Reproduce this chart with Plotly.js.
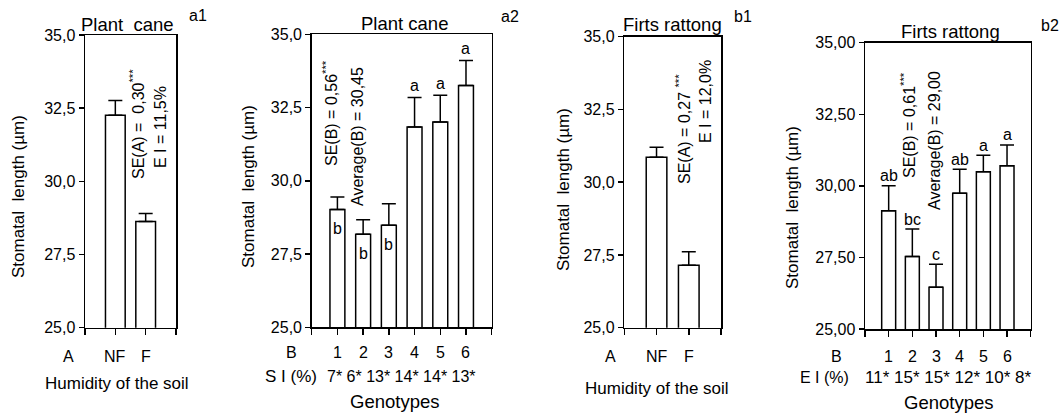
<!DOCTYPE html>
<html>
<head>
<meta charset="utf-8">
<script src="https://cdn.plot.ly/plotly-3.0.1.min.js"></script>
<style>html,body{margin:0;padding:0;background:#fff;}#chart{width:1064px;height:414px;}</style>
</head>
<body>
<div id="chart"></div>
<script>
// ---------- data ----------
const a1Cats = ['NF', 'F'];
const a1Means = [32.26, 28.63];
const a1Err = [0.50, 0.27];

const a2Cats = ['1', '2', '3', '4', '5', '6'];
const a2Means = [29.02, 28.18, 28.48, 31.84, 32.01, 33.25];
const a2Err = [0.43, 0.49, 0.74, 1.00, 0.91, 0.86];
const a2Letters = ['b', 'b', 'b', 'a', 'a', 'a'];
const a2LetterInside = [true, true, true, false, false, false];
const a2SI = ['7*', '6*', '13*', '14*', '14*', '13*'];

const b1Cats = ['NF', 'F'];
const b1Means = [30.86, 27.15];
const b1Err = [0.34, 0.46];

const b2Cats = ['1', '2', '3', '4', '5', '6'];
const b2Means = [29.13, 27.53, 26.46, 29.74, 30.49, 30.70];
const b2Err = [0.87, 0.96, 0.80, 0.84, 0.58, 0.73];
const b2Letters = ['ab', 'bc', 'c', 'ab', 'a', 'a'];
const b2EI = ['11*', '15*', '15*', '12*', '10*', '8*'];

const yTicks = [25, 27.5, 30, 32.5, 35];

// ---------- helpers ----------
const W = 1064, H = 414;
const FONT = 'Liberation Sans, Arial, sans-serif';
const px = v => v / W;
const py = v => 1 - v / H;
const idx = arr => arr.map((_, i) => i + 1);

function barTrace(means, err, width, xa, ya) {
  return {
    type: 'bar', x: idx(means), y: means, width: width,
    xaxis: xa, yaxis: ya,
    marker: {color: '#ffffff', line: {color: '#000', width: 1.5}},
    error_y: {type: 'data', symmetric: false, array: err, arrayminus: err.map(() => 0),
              color: '#000', thickness: 1.5, width: 7},
    hoverinfo: 'skip', showlegend: false
  };
}

function xAxis(n, x0, x1, anchor) {
  const tv = [];
  for (let i = 0; i <= n + 1; i++) tv.push(i);
  return {domain: [px(x0), px(x1)], range: [0, n + 1], anchor: anchor,
          tickvals: tv, showticklabels: false, ticks: 'outside', ticklen: 6,
          tickwidth: 1.5, tickcolor: '#000', showline: true, linecolor: '#000',
          linewidth: 1.5, mirror: true, showgrid: false, zeroline: false, fixedrange: true};
}
function yAxis(y0, y1, anchor, fmt) {
  return {domain: [py(y1), py(y0)], range: [25, 35], anchor: anchor,
          tickvals: yTicks, tickformat: fmt, ticks: 'outside', ticklen: 5,
          tickwidth: 1.5, tickcolor: '#000', showline: true, linecolor: '#000',
          linewidth: 1.5, mirror: true, showgrid: false, zeroline: false,
          tickfont: {family: FONT, size: 16, color: '#000'}, fixedrange: true};
}

const ann = [];
function txt(text, x, y, size, opts) {
  ann.push(Object.assign({text: text, xref: 'paper', yref: 'paper', x: px(x), y: py(y),
    xanchor: 'center', yanchor: 'middle', showarrow: false,
    font: {family: FONT, size: size, color: '#000'}}, opts || {}));
}
function rot(text, x, y, size) { txt(text, x, y, size, {textangle: -90}); }
function catRow(labels, xa, y, size) {
  labels.forEach((l, i) => ann.push({text: l, xref: xa, yref: 'paper', x: i + 1, y: py(y),
    xanchor: 'center', yanchor: 'middle', showarrow: false,
    font: {family: FONT, size: size, color: '#000'}}));
}

// ---------- panel a1 ----------
txt('Plant  cane', 127, 24, 18.5);
txt('a1', 198, 15, 16);
rot('Stomatal  length (µm)', 18, 197, 17);
rot('SE(A) =  0,30<sup>***</sup>', 137, 124, 16);
rot('E I = 11,5%', 160, 127, 16);
txt('A', 68, 356, 16);
catRow(a1Cats, 'x', 356, 16);
txt('Humidity of the soil', 117, 383, 17);

// ---------- panel a2 ----------
txt('Plant cane', 404, 23, 18.5);
txt('a2', 510, 17, 16);
rot('Stomatal  length (µm)', 248, 187, 17);
rot('SE(B) = 0,56<sup>***</sup>', 330, 113, 16);
rot('Average(B) = 30,45', 357, 137, 16);
txt('B', 291, 352, 16);
catRow(a2Cats, 'x2', 352, 16);
txt('S I (%)', 291, 376, 17);
txt(a2SI.join(' '), 401, 376, 16);
txt('Genotypes', 394, 401, 18.5);
a2Letters.forEach((l, i) => {
  const inside = a2LetterInside[i];
  ann.push({text: l, xref: 'x2', yref: 'y2', x: i + 1,
    y: inside ? a2Means[i] : a2Means[i] + a2Err[i],
    yshift: inside ? -19 : 12, xanchor: 'center', yanchor: 'middle', showarrow: false,
    font: {family: FONT, size: 16, color: '#000'}});
});

// ---------- panel b1 ----------
txt('Firts rattong', 672, 24, 18.5);
txt('b1', 743, 17, 16);
rot('Stomatal  length (µm)', 563, 190, 17);
rot('SE(A) = 0,27 <sup>***</sup>', 683, 129, 16);
rot('E I = 12,0%', 705, 102, 16);
txt('A', 610, 356, 16);
catRow(b1Cats, 'x3', 356, 16);
txt('Humidity of the soil', 657, 388, 17);

// ---------- panel b2 ----------
txt('Firts rattong', 950, 31, 18.5);
txt('b2', 1050, 25, 16);
rot('Stomatal  length (µm)', 792, 208, 17);
rot('SE(B) = 0,61<sup>***</sup>', 908, 125, 16);
rot('Average(B) = 29,00', 935, 141, 16);
txt('B', 836, 356, 16);
catRow(b2Cats, 'x4', 356, 16);
txt('E I (%)', 824, 377, 16);
txt(b2EI.join(' '), 863, 377, 17, {xanchor: 'left'});
txt('Genotypes', 948, 402, 18.5);
b2Letters.forEach((l, i) => {
  ann.push({text: l, xref: 'x4', yref: 'y4', x: i + 1, y: b2Means[i] + b2Err[i],
    yshift: 10, xanchor: 'center', yanchor: 'middle', showarrow: false,
    font: {family: FONT, size: 16, color: '#000'}});
});

const data = [
  barTrace(a1Means, a1Err, 0.65, 'x', 'y'),
  barTrace(a2Means, a2Err, 0.58, 'x2', 'y2'),
  barTrace(b1Means, b1Err, 0.64, 'x3', 'y3'),
  barTrace(b2Means, b2Err, 0.59, 'x4', 'y4')
];

const layout = {
  width: W, height: H, margin: {l: 0, r: 0, t: 0, b: 0},
  paper_bgcolor: '#fff', plot_bgcolor: '#fff',
  separators: ',.', showlegend: false,
  font: {family: FONT, color: '#000'},
  xaxis: xAxis(2, 85, 176, 'y'),
  yaxis: yAxis(35, 327.7, 'x', '.1f'),
  xaxis2: xAxis(6, 311.7, 491.7, 'y2'),
  yaxis2: yAxis(34.3, 327.3, 'x2', '.1f'),
  xaxis3: xAxis(2, 624.3, 721, 'y3'),
  yaxis3: yAxis(36.7, 327.7, 'x3', '.1f'),
  xaxis4: xAxis(6, 865, 1030.7, 'y4'),
  yaxis4: yAxis(42.7, 329, 'x4', '.2f'),
  annotations: ann
};

Plotly.newPlot('chart', data, layout, {staticPlot: true, displayModeBar: false});
</script>
</body>
</html>
